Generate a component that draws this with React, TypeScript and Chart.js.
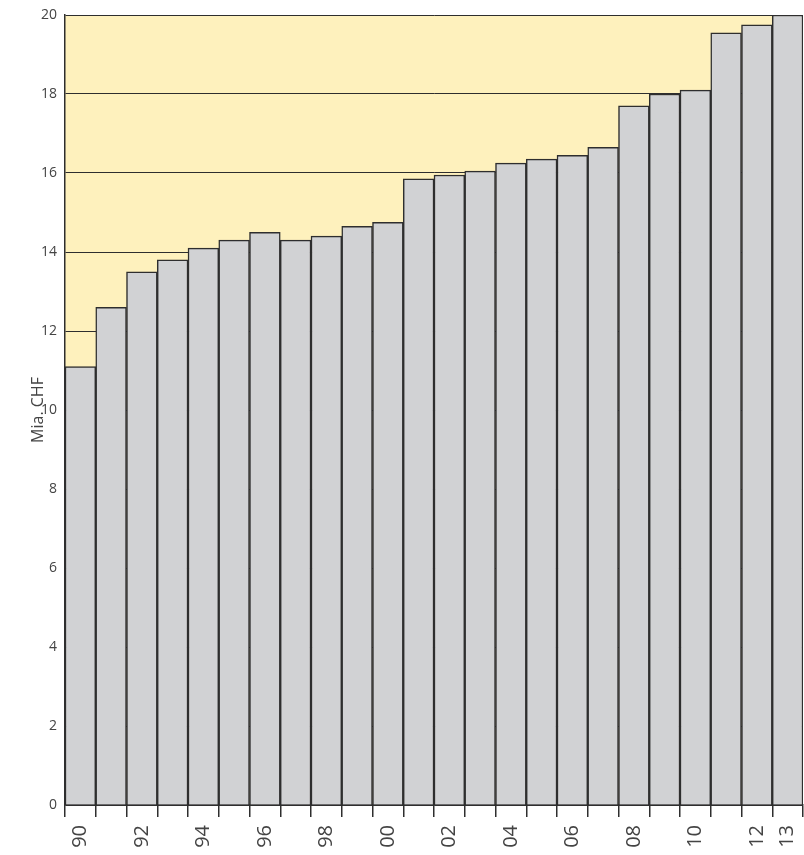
import React, { useEffect, useRef } from "react";
import { Chart, registerables } from "chart.js";

Chart.register(...registerables);

const years = ["90","91","92","93","94","95","96","97","98","99","00","01","02","03","04","05","06","07","08","09","10","11","12","13"];
const values = [11.1, 12.6, 13.5, 13.8, 14.1, 14.3, 14.5, 14.3, 14.4, 14.65, 14.75, 15.85, 15.95, 16.05, 16.25, 16.35, 16.45, 16.65, 17.7, 18.0, 18.1, 19.55, 19.75, 20.0];
const shownLabels = ["90","92","94","96","98","00","02","04","06","08","10","12","13"];
const yTicks = [0, 2, 4, 6, 8, 10, 12, 14, 16, 18, 20];
const yTitle = "Mia. CHF";

const bgPlugin = {
  id: "plotBg",
  beforeDraw(chart: any) {
    const { ctx, chartArea } = chart;
    ctx.save();
    ctx.fillStyle = "#FEF1BD";
    ctx.fillRect(chartArea.left, chartArea.top, chartArea.right - chartArea.left, chartArea.bottom - chartArea.top);
    ctx.restore();
  },
};

export default function App() {
  const ref = useRef<HTMLCanvasElement>(null);
  useEffect(() => {
    if (!ref.current) return;
    const chart = new Chart(ref.current, {
      type: "bar",
      data: {
        labels: years,
        datasets: [
          {
            data: values,
            backgroundColor: "#D1D2D4",
            borderColor: "#2E2E2E",
            borderWidth: 1.5,
            barPercentage: 1,
            categoryPercentage: 1,
          },
        ],
      },
      plugins: [bgPlugin],
      options: {
        responsive: false,
        animation: false,
        devicePixelRatio: 1,
        layout: { padding: { left: 0, top: 15, right: 1, bottom: 0 } },
        plugins: { legend: { display: false }, tooltip: { enabled: false } },
        scales: {
          x: {
            afterFit: (s: any) => { s.height = 50; s.paddingLeft = 0; s.paddingRight = 0; },
            border: { display: true, color: "#2E2E2E", width: 1.5 },
            grid: { display: true, drawOnChartArea: false, drawTicks: true, tickLength: 12, color: "#2E2E2E", lineWidth: 1.5, offset: true },
            ticks: {
              autoSkip: false,
              minRotation: 90,
              maxRotation: 90,
              padding: 8,
              color: "#444",
              font: { family: "Open Sans", size: 20 },
              callback: (_v: any, i: number) => (shownLabels.includes(years[i]) ? years[i] : ""),
            },
          },
          y: {
            min: 0,
            max: 20,
            afterFit: (s: any) => { s.width = 65; s.paddingTop = 0; s.paddingBottom = 0; },
            afterBuildTicks: (s: any) => { s.ticks = yTicks.map((v) => ({ value: v })); },
            border: { display: true, color: "#2E2E2E", width: 1.5 },
            grid: { display: true, drawTicks: false, color: "#2E2E2E", lineWidth: 1 },
            ticks: { padding: 8, color: "#444", font: { family: "Open Sans", size: 14 } },
            title: { display: true, text: yTitle, color: "#444", padding: { top: 29, bottom: 0 }, font: { family: "Open Sans", size: 16 } },
          },
        },
      },
    });
    return () => chart.destroy();
  }, []);
  return (
    <div style={{ position: "fixed", left: 0, top: 0, width: 804, height: 855, background: "#fff" }}>
      <canvas ref={ref} width={804} height={855} style={{ display: "block" }} />
    </div>
  );
}
